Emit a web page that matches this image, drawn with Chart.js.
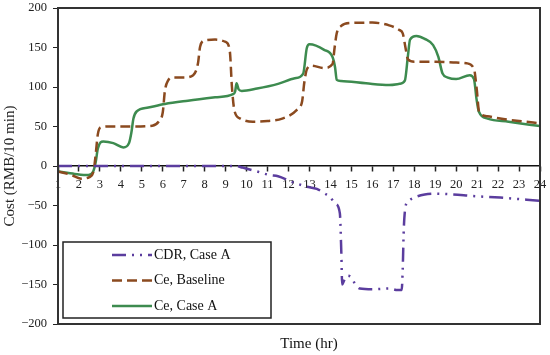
<!DOCTYPE html>
<html lang="en">
<head>
<meta charset="UTF-8">
<title>Cost chart</title>
<style>
  body { margin: 0; background: #fff; }
</style>
</head>
<body>
<canvas id="costChart" width="550" height="355"></canvas>
<script src="https://cdn.jsdelivr.net/npm/chart.js"></script>
<script>
// values: time in hr, cost in RMB/10 min
const hourTicks = [1, 2, 3, 4, 5, 6, 7, 8, 9, 10, 11, 12, 13, 14, 15, 16, 17, 18, 19, 20, 21, 22, 23, 24];
const costTicks = [-200, -150, -100, -50, 0, 50, 100, 150, 200];

const cdrTime = [1, 9.5, 9.8, 10.5, 11.1, 11.5, 12.15, 12.85, 13.35, 13.74, 14.0, 14.25, 14.45, 14.52, 14.56,
  14.65, 14.8, 15.0, 15.15, 15.4, 16.0, 16.8, 17.2, 17.4, 17.45, 17.5, 17.58, 17.7, 18.0, 18.5, 19.0, 19.85, 20.8, 22.1, 24];
const cdrCost = [0, 0, -2, -7, -11.5, -13, -20, -26, -29, -35, -40, -48, -60, -110, -150,
  -145, -139, -141, -148, -155, -156, -155, -157, -157, -130, -80, -52, -45, -40, -36, -35, -36, -38, -40, -44];

const baseTime = [1, 1.6, 2.1, 2.5, 2.7, 2.8, 2.9, 3.05, 3.5, 4.5, 5.5, 5.85, 6.0, 6.1, 6.25, 6.5, 7.0, 7.45, 7.68, 7.78,
  8.0, 8.5, 9.0, 9.2, 9.3, 9.42, 9.7, 10.3, 11.0, 11.7, 12.4, 12.65, 12.75, 12.87, 13.1, 13.7, 14.1, 14.2, 14.3, 14.5,
  15.0, 16.0, 16.8, 17.3, 17.45, 17.58, 17.7, 18.0, 19.0, 20.0, 20.5, 20.85, 20.97, 21.1, 21.5, 22.1, 23.0, 24];
const baseCost = [-7, -11, -16, -14, -6, 15, 40, 49, 50, 50, 51, 58, 68, 95, 108, 112, 112, 115, 130, 151,
  159, 160, 157, 145, 100, 70, 60, 56, 57, 60, 71, 82, 105, 122, 127, 124, 129, 150, 168, 177,
  181, 181.5, 178, 172, 168, 150, 135, 132, 132, 131, 130, 123, 100, 68, 63, 60, 57, 54];

const caseTime = [1, 1.8, 2.45, 2.68, 2.8, 2.9, 3.16, 3.64, 4.12, 4.39, 4.5, 4.6, 4.75, 5.31, 6.1, 7.2, 8.5, 9.35, 9.45, 9.52,
  9.62, 9.77, 10.5, 11.5, 12.3, 12.7, 12.87, 13.0, 13.7, 14.1, 14.22, 14.3, 14.5, 15.7, 16.8, 17.3, 17.55, 17.7, 17.8,
  18.1, 18.5, 18.9, 19.15, 19.35, 19.6, 20.0, 20.65, 20.85, 20.97, 21.08, 21.5, 22.5, 24];
const caseCost = [-7, -10, -11.5, -7, 5, 22, 31, 29, 23.5, 29, 42, 60, 69, 74, 78.5, 82.7, 87, 91, 94, 104.7,
  97, 95, 98, 104, 111, 117, 149, 154, 147, 138, 125, 109, 107.6, 104.6, 102.5, 104, 108, 140, 160,
  164.5, 161, 153, 138, 117, 112, 110, 115, 110, 85, 69, 60, 56, 50.5];

const seriesNames = ['CDR, Case A', 'Ce, Baseline', 'Ce, Case A'];

const pts = (xs, ys) => xs.map((x, i) => ({ x: x, y: ys[i] }));
const serif = 'Liberation Serif, Times New Roman, serif';

const datasets = [
  { label: seriesNames[0], data: pts(cdrTime, cdrCost), borderColor: '#5b3d9e', borderWidth: 2.5, borderDash: [14, 6, 2, 6, 2, 6] },
  { label: seriesNames[1], data: pts(baseTime, baseCost), borderColor: '#8b4a1f', borderWidth: 2.5, borderDash: [10, 5] },
  { label: seriesNames[2], data: pts(caseTime, caseCost), borderColor: '#3d8b4f', borderWidth: 2.5, borderDash: [] }
];
datasets.forEach(d => {
  d.pointRadius = 0;
  d.fill = false;
  d.cubicInterpolationMode = 'monotone';
});

// frame around the plot, boxed legend and the x title
const frameAndLegend = {
  id: 'frameAndLegend',
  afterDraw(chart) {
    const ctx = chart.ctx;
    const a = chart.chartArea;
    ctx.save();
    ctx.strokeStyle = '#333';
    ctx.lineWidth = 2;
    ctx.strokeRect(a.left, a.top, a.right - a.left, a.bottom - a.top);

    const bx = a.left + 5, by = a.bottom - 82, bw = 208, bh = 76;
    ctx.fillStyle = '#fff';
    ctx.fillRect(bx, by, bw, bh);
    ctx.lineWidth = 1.5;
    ctx.strokeStyle = '#222';
    ctx.strokeRect(bx, by, bw, bh);

    ctx.font = '14px ' + serif;
    ctx.textBaseline = 'middle';
    chart.data.datasets.forEach((d, i) => {
      const y = by + 13 + i * 25.5;
      ctx.strokeStyle = d.borderColor;
      ctx.lineWidth = d.borderWidth;
      ctx.setLineDash(d.borderDash);
      ctx.beginPath();
      ctx.moveTo(bx + 49, y);
      ctx.lineTo(bx + 89, y);
      ctx.stroke();
      ctx.setLineDash([]);
      ctx.fillStyle = '#111';
      ctx.fillText(d.label, bx + 91, y);
    });

    ctx.font = '15px ' + serif;
    ctx.textAlign = 'center';
    ctx.fillStyle = '#111';
    ctx.fillText('Time (hr)', (a.left + a.right) / 2 + 10, 344);
    ctx.restore();
  }
};

new Chart(document.getElementById('costChart'), {
  type: 'line',
  data: { datasets: datasets },
  options: {
    responsive: false,
    animation: false,
    layout: { padding: { left: 0, right: 10, top: 8, bottom: 31 } },
    plugins: { legend: { display: false }, tooltip: { enabled: false } },
    scales: {
      x: {
        type: 'linear',
        position: { y: 0 },
        min: 1,
        max: 24,
        afterBuildTicks: s => { s.ticks = hourTicks.map(v => ({ value: v })); },
        afterFit: s => { s.paddingLeft = 0; s.paddingRight = 0; },
        ticks: { autoSkip: false, maxRotation: 0, padding: 6, color: '#222', font: { family: serif, size: 12.5 } },
        grid: { drawOnChartArea: false, drawTicks: true, tickLength: 5, tickColor: '#222', tickWidth: 1.5 },
        border: { display: true, color: '#111', width: 1.5 }
      },
      y: {
        min: -200,
        max: 200,
        afterBuildTicks: s => { s.ticks = costTicks.map(v => ({ value: v })); },
        afterFit: s => { s.width = 58; s.paddingTop = 0; s.paddingBottom = 0; },
        ticks: {
          padding: 6,
          color: '#222',
          font: { family: serif, size: 12.5 },
          callback: v => (v < 0 ? '\u2212' + Math.abs(v) : String(v))
        },
        grid: { drawOnChartArea: false, drawTicks: true, tickLength: 5, tickColor: '#222' },
        border: { display: false },
        title: { display: true, text: 'Cost (RMB/10 min)', color: '#222', font: { family: serif, size: 15 }, padding: { top: 1, bottom: 0 } }
      }
    }
  },
  plugins: [frameAndLegend]
});
</script>
</body>
</html>
